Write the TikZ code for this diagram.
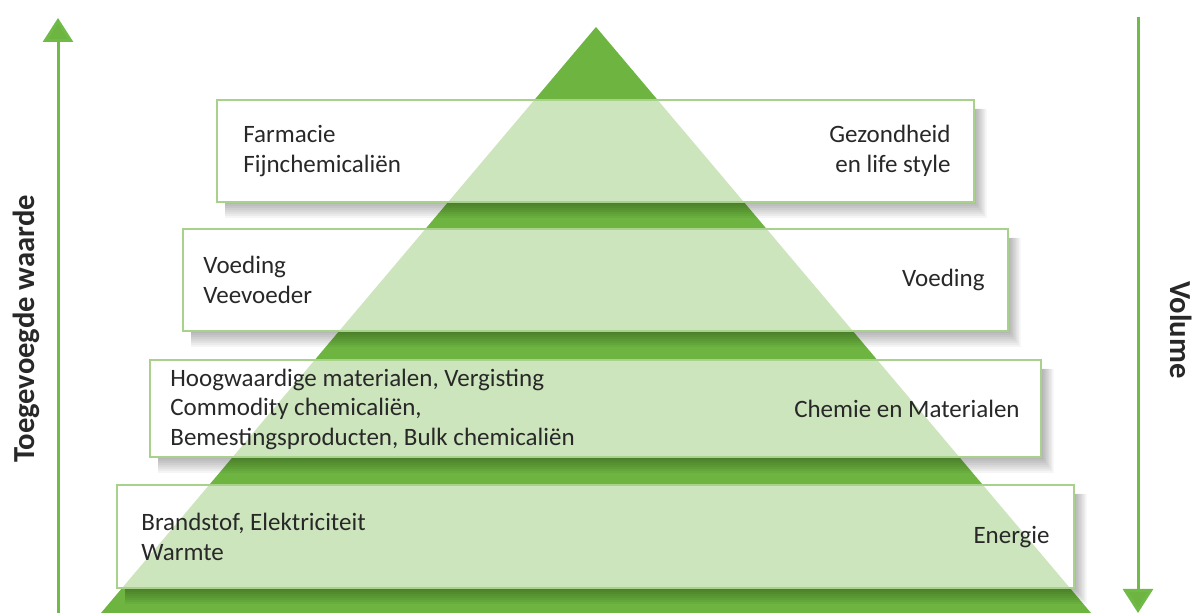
\documentclass[tikz,border=0pt]{standalone}
\usepackage{fontspec}
\setmainfont{Carlito}
\usetikzlibrary{arrows.meta}
\definecolor{pyr}{RGB}{109,181,64}
\definecolor{boxline}{RGB}{168,210,140}
\definecolor{txt}{RGB}{40,40,40}
\definecolor{arr}{RGB}{112,186,72}
\newcommand\tiershadow[4]{%
  \foreach \k in {0,...,7}{%
    \fill[black,opacity=0.04]
      (#3,#2+9) -- (#3+1.5*\k+2,#2+9) -- (#3+1.5*\k+2,#4+2*\k+2)
      -- (#1+8,#4+2*\k+2) -- (#1+8,#4) -- (#3,#4) -- cycle;
  }%
}
\tikzset{
  tier/.style={draw=boxline, line width=0.8pt, fill=white, fill opacity=0.66},
  tiertext/.style={inner sep=0pt, text=txt, font=\fontsize{12.5}{14.75}\selectfont},
  axislabel/.style={inner sep=0pt, text=txt, font=\fontsize{15.3}{18}\selectfont\bfseries},
  axisarrow/.style={draw=arr, line width=1.5pt, -{Triangle[width=15pt,length=12pt,fill=pyr]}}
}
\begin{document}
\begin{tikzpicture}[x=0.5pt,y=-0.5pt]
\useasboundingbox (0,0) rectangle (1196,613);
\fill[white] (0,0) rectangle (1196,613);

% pyramid
\fill[pyr] (596,27) -- (1091,613) -- (101,613) -- cycle;

% shadows
\tiershadow{217}{100}{974}{202}
\tiershadow{183}{229}{1008}{331}
\tiershadow{150}{360}{1041}{457}
\tiershadow{117}{485}{1074}{588}

% tiers
\draw[tier] (217,100) rectangle (974,202);
\draw[tier] (183,229) rectangle (1008,331);
\draw[tier] (150,360) rectangle (1041,457);
\draw[tier] (117,485) rectangle (1074,588);

% texts
\node[tiertext, anchor=west, align=left] (t1l) at (243,151) {Farmacie\\Fijnchemicaliën};
\node[tiertext, anchor=east, align=right] (t1r) at (951,151) {Gezondheid\\en life style};
\node[tiertext, anchor=west, align=left] (t2l) at (203,280) {Voeding\\Veevoeder};
\node[tiertext, anchor=east, align=right] (t2r) at (985,280) {Voeding};
\node[tiertext, anchor=west, align=left] (t3l) at (170,409) {Hoogwaardige materialen, Vergisting\\Commodity chemicaliën,\\Bemestingsproducten, Bulk chemicaliën};
\node[tiertext, anchor=east, align=right] (t3r) at (1020,409) {Chemie en Materialen};
\node[tiertext, anchor=west, align=left] (t4l) at (141,537) {Brandstof, Elektriciteit\\Warmte};
\node[tiertext, anchor=east, align=right] (t4r) at (1050,537) {Energie};

% axes
\coordinate (la0) at (58,613);
\coordinate (la1) at (58,18);
\coordinate (ra0) at (1138,17);
\coordinate (ra1) at (1138,613);
\draw[axisarrow] (la0) -- (la1);
\draw[axisarrow] (ra0) -- (ra1);
\node[axislabel, rotate=90] (lval) at (26,329) {Toegevoegde waarde};
\node[axislabel, rotate=-90] (lvol) at (1181,330) {Volume};
\end{tikzpicture}
\end{document}
